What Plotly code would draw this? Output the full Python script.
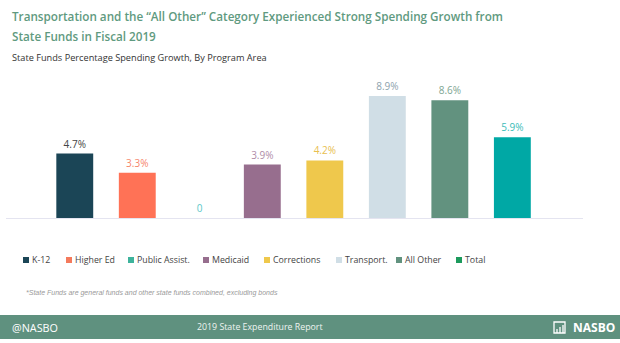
import plotly.graph_objects as go

categories = ["K-12", "Higher Ed", "Public Assist.", "Medicaid", "Corrections", "Transport.", "All Other", "Total"]
values = [4.7, 3.3, 0.0, 3.9, 4.2, 8.9, 8.6, 5.9]
labels = ["4.7%", "3.3%", "0", "3.9%", "4.2%", "8.9%", "8.6%", "5.9%"]
bar_colors = ["#1b4556", "#ff7256", "#3eb39c", "#976e8e", "#efc84c", "#d0dee6", "#62927f", "#00a8a5"]
label_colors = ["#444444", "#f6866b", "#5cc8c8", "#b08ca8", "#e8c050", "#8ea3ae", "#7ea592", "#3bbcb8"]
legend_colors = ["#1b4556", "#f47a5c", "#3eb39c", "#976e8e", "#efc84c", "#d0dee6", "#62927f", "#1c9a5c"]

W, H = 620, 343
L, R, T, B = 6, 583, 70, 218


def px(x):
    return (x - L) / (R - L)


def py(y):
    return (B - y) / (B - T)


fig = go.Figure()
fig.add_trace(go.Bar(
    x=categories, y=values, marker=dict(color=bar_colors, line=dict(width=0)),
    width=0.59, text=labels, textposition="outside", cliponaxis=False,
    textfont=dict(family="Open Sans", size=10, color=label_colors),
    hoverinfo="skip", showlegend=False,
))

annotations = []
shapes = []

# title
title_font = dict(family="Open Sans", size=11.7, color="#5f9a80", weight=600)
annotations.append(dict(x=px(10), y=py(16), xref="paper", yref="paper", xanchor="left", yanchor="middle",
                        text="Transportation and the \u201cAll Other\u201d Category Experienced Strong Spending Growth from",
                        showarrow=False, font=title_font))
annotations.append(dict(x=px(10), y=py(36), xref="paper", yref="paper", xanchor="left", yanchor="middle",
                        text="State Funds in Fiscal 2019",
                        showarrow=False, font=title_font))
annotations.append(dict(x=px(10), y=py(58), xref="paper", yref="paper", xanchor="left", yanchor="middle",
                        text="State Funds Percentage Spending Growth, By Program Area",
                        showarrow=False, font=dict(family="Open Sans", size=9.2, color="#333333")))

# legend
legend_x = [23, 66, 128, 203, 264, 336, 396, 456]
for cat, col, lx in zip(categories, legend_colors, legend_x):
    shapes.append(dict(type="rect", xref="paper", yref="paper", x0=px(lx), x1=px(lx + 6),
                       y0=py(263), y1=py(257), fillcolor=col, line=dict(width=0)))
    annotations.append(dict(x=px(lx + 7), y=py(260), xref="paper", yref="paper", xanchor="left",
                            yanchor="middle", text=cat, showarrow=False,
                            font=dict(family="Open Sans", size=8.8, color="#444444")))

# footnote
annotations.append(dict(x=px(24), y=py(293), xref="paper", yref="paper", xanchor="left", yanchor="middle",
                        text="*State Funds are general funds and other state funds combined, excluding bonds",
                        showarrow=False, font=dict(family="Liberation Sans", size=7, color="#9a9a9a", style="italic")))

# footer bar
shapes.append(dict(type="rect", xref="paper", yref="paper", x0=px(0), x1=px(620), y0=py(339), y1=py(315),
                   fillcolor="#5f917f", line=dict(width=0), layer="below"))
annotations.append(dict(x=px(10), y=py(327), xref="paper", yref="paper", xanchor="left", yanchor="middle",
                        text="@NASBO", showarrow=False,
                        font=dict(family="Open Sans", size=10.8, color="#ffffff")))
annotations.append(dict(x=px(260), y=py(327), xref="paper", yref="paper", xanchor="center", yanchor="middle",
                        text="2019 State Expenditure Report", showarrow=False,
                        font=dict(family="Open Sans", size=8.8, color="#eef4f1")))
annotations.append(dict(x=px(617), y=py(327), xref="paper", yref="paper", xanchor="right", yanchor="middle",
                        text="NASBO", showarrow=False,
                        font=dict(family="Open Sans", size=12, color="#ffffff", weight=700)))
# logo icon
shapes.append(dict(type="rect", xref="paper", yref="paper", x0=px(554), x1=px(565), y0=py(333), y1=py(322),
                   line=dict(color="#ffffff", width=1.3)))
for xx, hh in [(557, 4), (560, 6), (563, 8)]:
    shapes.append(dict(type="line", xref="paper", yref="paper", x0=px(xx), x1=px(xx), y0=py(333), y1=py(333 - hh),
                       line=dict(color="#ffffff", width=1.3)))

fig.update_layout(
    width=W, height=H,
    margin=dict(l=L, r=W - R, t=T, b=H - B, pad=0),
    paper_bgcolor="#ffffff", plot_bgcolor="#ffffff",
    bargap=0.41,
    xaxis=dict(range=[-1.1, 8.13], showticklabels=False, ticks="", showgrid=False,
               showline=True, linecolor="#e4e4f0", linewidth=1, zeroline=False, fixedrange=True),
    yaxis=dict(range=[0, 10.8], visible=False, showgrid=False, zeroline=False, fixedrange=True),
    annotations=annotations, shapes=shapes,
    showlegend=False,
)

fig.write_html("out.html", config={"displayModeBar": False})
